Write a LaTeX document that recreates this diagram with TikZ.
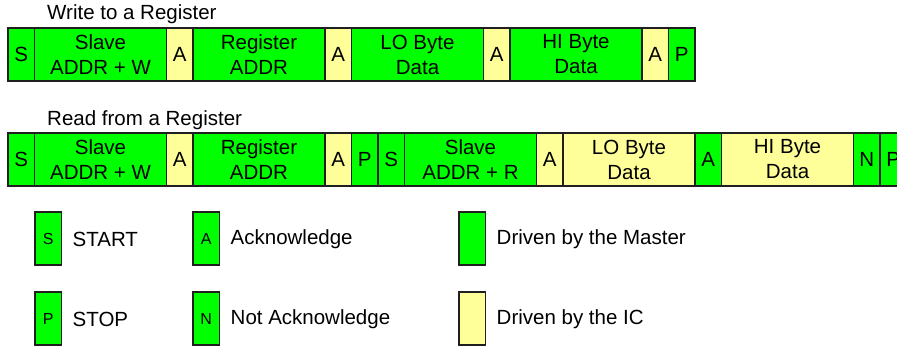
\documentclass[tikz,border=0pt]{standalone}
\usepackage{fontspec}
\setmainfont{Liberation Sans}
\usetikzlibrary{positioning}
\definecolor{mastergreen}{RGB}{0,255,0}
\definecolor{icyellow}{RGB}{255,255,153}
\begin{document}
\begin{tikzpicture}[x=1pt, y=-1pt, font=\fontsize{20.5}{25}\selectfont,
	cell/.style={draw=black!88, line width=1.2pt, outer sep=0pt, inner sep=0pt, minimum height=53pt, align=center},
	narrow/.style={cell, minimum width=26.5pt},
	wide/.style={cell, minimum width=132pt},
	master/.style={fill=mastergreen},
	ic/.style={fill=icyellow},
	keybox/.style={narrow, font=\fontsize{16}{18}\selectfont},
	keytext/.style={right=11pt of #1, inner sep=0pt, anchor=west}]
			\useasboundingbox (0,0) rectangle (897,347);
			% write to a register
			\node[anchor=base west, inner sep=0pt] (wtitle) at (47,20) {Write to a Register};
			\node[narrow, master, anchor=north west] (w1) at (8,28) {S};
			\node[wide, master, right=0pt of w1] (w2) {Slave\\ADDR + W};
			\node[narrow, ic, right=0pt of w2] (w3) {A};
			\node[wide, master, right=0pt of w3] (w4) {Register\\ADDR};
			\node[narrow, ic, right=0pt of w4] (w5) {A};
			\node[wide, master, right=0pt of w5] (w6) {LO Byte\\Data};
			\node[narrow, ic, right=0pt of w6] (w7) {A};
			\node[wide, master, right=0pt of w7] (w8) {HI Byte\\Data};
			\node[narrow, ic, right=0pt of w8] (w9) {A};
			\node[narrow, master, right=0pt of w9] (w10) {P};
			% read from a register
			\node[anchor=base west, inner sep=0pt] (rtitle) at (47,126) {Read from a Register};
			\node[narrow, master, anchor=north west] (r1) at (8,133) {S};
			\node[wide, master, right=0pt of r1] (r2) {Slave\\ADDR + W};
			\node[narrow, ic, right=0pt of r2] (r3) {A};
			\node[wide, master, right=0pt of r3] (r4) {Register\\ADDR};
			\node[narrow, ic, right=0pt of r4] (r5) {A};
			\node[narrow, master, right=0pt of r5] (r6) {P};
			\node[narrow, master, right=0pt of r6] (r7) {S};
			\node[wide, master, right=0pt of r7] (r8) {Slave\\ADDR + R};
			\node[narrow, ic, right=0pt of r8] (r9) {A};
			\node[wide, ic, right=0pt of r9] (r10) {LO Byte\\Data};
			\node[narrow, master, right=0pt of r10] (r11) {A};
			\node[wide, ic, right=0pt of r11] (r12) {HI Byte\\Data};
			\node[narrow, master, right=0pt of r12] (r13) {N};
			\node[narrow, master, right=0pt of r13] (r14) {P};
			% legend
			\node[keybox, master, anchor=north west] (kS) at (35,212) {S};
			\node[keytext=kS, yshift=-1pt] (kStext) {START};
			\node[keybox, master, anchor=north west] (kP) at (35,292) {P};
			\node[keytext=kP, yshift=-1pt] (kPtext) {STOP};
			\node[keybox, master, anchor=north west] (kA) at (193,212) {A};
			\node[keytext=kA, yshift=-1pt] (kAtext) {Acknowledge};
			\node[keybox, master, anchor=north west] (kN) at (193,292) {N};
			\node[keytext=kN, yshift=-1pt] (kNtext) {Not Acknowledge};
			\node[keybox, master, anchor=north west] (kM) at (459,212) {};
			\node[keytext=kM, yshift=-1pt] (kMtext) {Driven by the Master};
			\node[keybox, ic, anchor=north west] (kI) at (459,292) {};
			\node[keytext=kI, yshift=-1pt] (kItext) {Driven by the IC};
		\end{tikzpicture}
\end{document}
